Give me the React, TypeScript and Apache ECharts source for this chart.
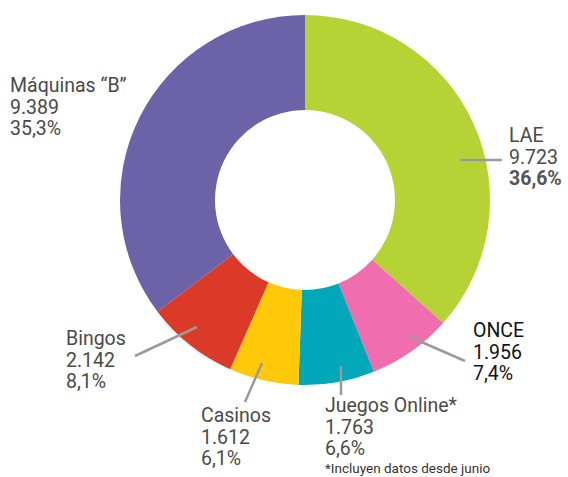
import React, { useEffect, useRef } from "react";
import * as echarts from "echarts";

const categories = ["LAE", "ONCE", "Juegos Online*", "Casinos", "Bingos", "Máquinas “B”"];
const values = [9723, 1956, 1763, 1612, 2142, 9389];
const colors = ["#b5d334", "#f06eaf", "#00a8b9", "#ffc90a", "#da3a27", "#6c62a8"];
const footnote = "*Incluyen datos desde junio";

const labelPos = [
  [509, 125],
  [473, 320],
  [325, 395],
  [201, 405],
  [66, 328],
  [10, 75],
];
const leaders = [
  [460, 160, 502, 160],
  [410, 337, 465, 361],
  [341, 366, 341, 395],
  [262, 363, 245, 402],
  [197, 327, 135, 356],
];

const total = values.reduce((a, b) => a + b, 0);
const fmtNum = (v: number) => String(v).replace(/\B(?=(\d{3})+(?!\d))/g, ".");
const fmtPct = (v: number) => ((v / total) * 100).toFixed(1).replace(".", ",") + "%";

export default function App() {
  const ref = useRef<HTMLDivElement>(null);
  useEffect(() => {
    const chart = echarts.init(ref.current!, null, { renderer: "svg" });
    const font = "Roboto";
    const base = { fontFamily: font, fontSize: 19.5, lineHeight: 21.5, color: "#4a4a4a" };
    chart.setOption({
      animation: false,
      series: [
        {
          type: "pie",
          center: [305, 200],
          radius: [90, 185],
          startAngle: 90,
          clockwise: true,
          avoidLabelOverlap: false,
          labelLine: { show: false },
          label: {
            show: true,
            formatter: (p: any) => {
              const i = p.dataIndex;
              if (i === 0) return `{n|${p.name}}\n{n|${fmtNum(p.value)}}\n{b|${fmtPct(p.value)}}`;
              if (i === 1) return `{d|${p.name}}\n{d|${fmtNum(p.value)}}\n{d|${fmtPct(p.value)}}`;
              return `{n|${p.name}}\n{n|${fmtNum(p.value)}}\n{n|${fmtPct(p.value)}}`;
            },
            rich: {
              n: { ...base },
              b: { ...base, fontWeight: "bold", color: "#555555" },
              d: { ...base, color: "#111111" },
            },
          },
          labelLayout: (params: any) => ({
            x: labelPos[params.dataIndex][0],
            y: labelPos[params.dataIndex][1],
            align: "left",
            verticalAlign: "top",
          }),
          data: categories.map((c, i) => ({ name: c, value: values[i], itemStyle: { color: colors[i] } })),
        },
      ],
      graphic: [
        ...leaders.map((l) => ({
          type: "line",
          shape: { x1: l[0], y1: l[1], x2: l[2], y2: l[3] },
          style: { stroke: "#9a9a9a", lineWidth: 2.5 },
          z: 10,
        })),
        {
          type: "text",
          left: 325,
          top: 461,
          style: { text: footnote, fontFamily: font, fontSize: 13.5, fill: "#333333" },
        },
      ],
    });
    return () => chart.dispose();
  }, []);
  return <div ref={ref} style={{ position: "fixed", left: 0, top: 0, width: 568, height: 477, background: "#fff" }} />;
}
